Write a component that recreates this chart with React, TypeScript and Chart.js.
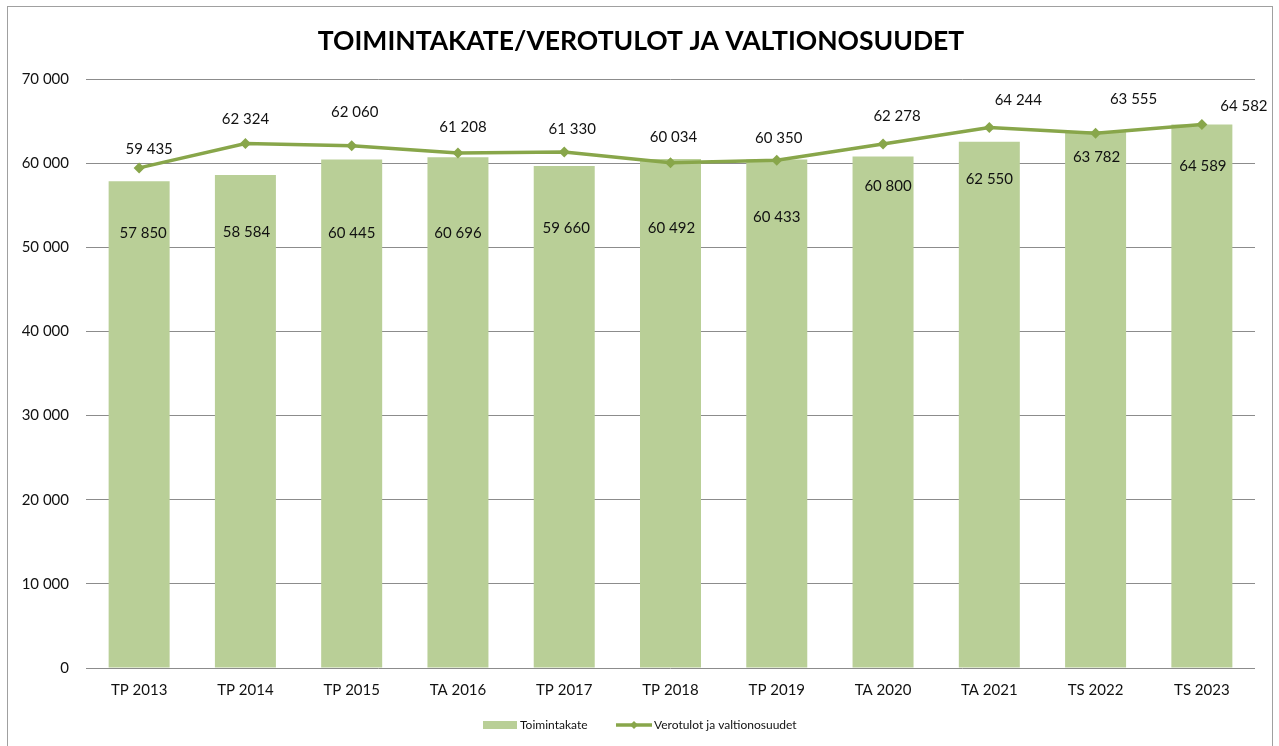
import React, { useEffect, useRef } from "react";
import { Chart, registerables } from "chart.js";

Chart.register(...registerables);

const categories = ["TP 2013", "TP 2014", "TP 2015", "TA 2016", "TP 2017", "TP 2018", "TP 2019", "TA 2020", "TA 2021", "TS 2022", "TS 2023"];
const toimintakate = [57850, 58584, 60445, 60696, 59660, 60492, 60433, 60800, 62550, 63782, 64589];
const verotulot = [59435, 62324, 62060, 61208, 61330, 60034, 60350, 62278, 64244, 63555, 64582];
const yMin = 0;
const yMax = 70000;
const yStep = 10000;

const TITLE = "TOIMINTAKATE/VEROTULOT JA VALTIONOSUUDET";
const SERIES_BAR = "Toimintakate";
const SERIES_LINE = "Verotulot ja valtionosuudet";

// label placement (pixel offsets relative to the mark)
const barLabelDx = [4, 1, 0, 0, 2, 1, 0, 5, 0, 1, 1];
const barLabelDy = [52, 57, 74, 76, 62, 69, 58, 30, 37, 26, 42];
const lineLabelDx = [10, 0, 3, 5, 8, 3, 2, 14, 29, 38, 42];
const lineLabelDy = [-19, -24, -34, -26, -23, -26, -22, -28, -27, -34, -18];

const BAR_COLOR = "#B9CF97";
const LINE_COLOR = "#88A64A";
const GRID_COLOR = "#8C8C8C";
const FONT = "Lato, 'Open Sans', sans-serif";

const fmt = (n: number) => String(n).replace(/\B(?=(\d{3})+(?!\d))/g, " ");

const decorPlugin = {
  id: "decor",
  beforeDraw(chart: any) {
    const ctx = chart.ctx;
    ctx.save();
    ctx.fillStyle = "#ffffff";
    ctx.fillRect(0, 0, chart.width, chart.height);
    ctx.strokeStyle = "#A0A0A0";
    ctx.lineWidth = 1;
    ctx.strokeRect(7.5, 6.5, 1265, 760);
    ctx.restore();
  },
  afterDraw(chart: any) {
    const ctx = chart.ctx;
    ctx.save();
    // title
    ctx.fillStyle = "#000000";
    ctx.font = `bold 26.5px ${FONT}`;
    ctx.textAlign = "center";
    ctx.textBaseline = "middle";
    ctx.fillText(TITLE, 641, 41);

    // data labels
    ctx.font = `15px ${FONT}`;
    ctx.fillStyle = "#111111";
    const barMeta = chart.getDatasetMeta(0);
    barMeta.data.forEach((el: any, i: number) => {
      ctx.fillText(fmt(toimintakate[i]), el.x + barLabelDx[i], el.y + barLabelDy[i]);
    });
    const lineMeta = chart.getDatasetMeta(1);
    lineMeta.data.forEach((el: any, i: number) => {
      ctx.fillText(fmt(verotulot[i]), el.x + lineLabelDx[i], el.y + lineLabelDy[i]);
    });

    // legend
    const ly = 725;
    ctx.font = `12px ${FONT}`;
    ctx.textAlign = "left";
    ctx.fillStyle = BAR_COLOR;
    ctx.fillRect(483, ly - 4, 34, 8);
    ctx.fillStyle = "#111111";
    ctx.fillText(SERIES_BAR, 520, ly);
    ctx.strokeStyle = LINE_COLOR;
    ctx.lineWidth = 3.5;
    ctx.beginPath();
    ctx.moveTo(616, ly);
    ctx.lineTo(652, ly);
    ctx.stroke();
    ctx.fillStyle = LINE_COLOR;
    ctx.beginPath();
    ctx.moveTo(634, ly - 4);
    ctx.lineTo(638, ly);
    ctx.lineTo(634, ly + 4);
    ctx.lineTo(630, ly);
    ctx.closePath();
    ctx.fill();
    ctx.fillStyle = "#111111";
    ctx.fillText(SERIES_LINE, 654, ly);
    ctx.restore();
  },
};

export default function App() {
  const ref = useRef<HTMLCanvasElement>(null);
  useEffect(() => {
    if (!ref.current) return;
    const chart = new Chart(ref.current, {
      type: "bar",
      data: {
        labels: categories,
        datasets: [
          {
            type: "bar",
            label: SERIES_BAR,
            data: toimintakate,
            backgroundColor: BAR_COLOR,
            borderWidth: 0,
            categoryPercentage: 1,
            barPercentage: 0.574,
            order: 1,
          },
          {
            type: "line",
            label: SERIES_LINE,
            data: verotulot,
            borderColor: LINE_COLOR,
            backgroundColor: LINE_COLOR,
            borderWidth: 3.5,
            pointStyle: "rectRot",
            pointRadius: 5.5,
            pointBorderWidth: 0,
            pointBackgroundColor: LINE_COLOR,
            tension: 0,
            order: 0,
          },
        ],
      },
      options: {
        responsive: false,
        animation: false,
        layout: { padding: { left: 0, top: 79, right: 24, bottom: 48 } },
        plugins: {
          legend: { display: false },
          title: { display: false },
          tooltip: { enabled: false },
        },
        scales: {
          x: {
            grid: { display: false, drawTicks: false },
            border: { display: false },
            ticks: { color: "#111111", font: { family: FONT, size: 15 }, padding: 13, maxRotation: 0 },
            afterFit: (s: any) => { s.height = 30; },
          },
          y: {
            min: yMin,
            max: yMax,
            ticks: {
              stepSize: yStep,
              color: "#111111",
              font: { family: FONT, size: 15 },
              padding: 17,
              callback: (v: any) => fmt(Number(v)),
            },
            grid: { color: GRID_COLOR, lineWidth: 1, drawTicks: false },
            border: { display: false },
            afterFit: (s: any) => { s.width = 86; },
          },
        },
      },
      plugins: [decorPlugin],
    });
    return () => chart.destroy();
  }, []);
  return (
    <div style={{ position: "absolute", left: 0, top: 0, width: 1279, height: 746, overflow: "hidden" }}>
      <canvas ref={ref} width={1279} height={746} style={{ display: "block" }} />
    </div>
  );
}
